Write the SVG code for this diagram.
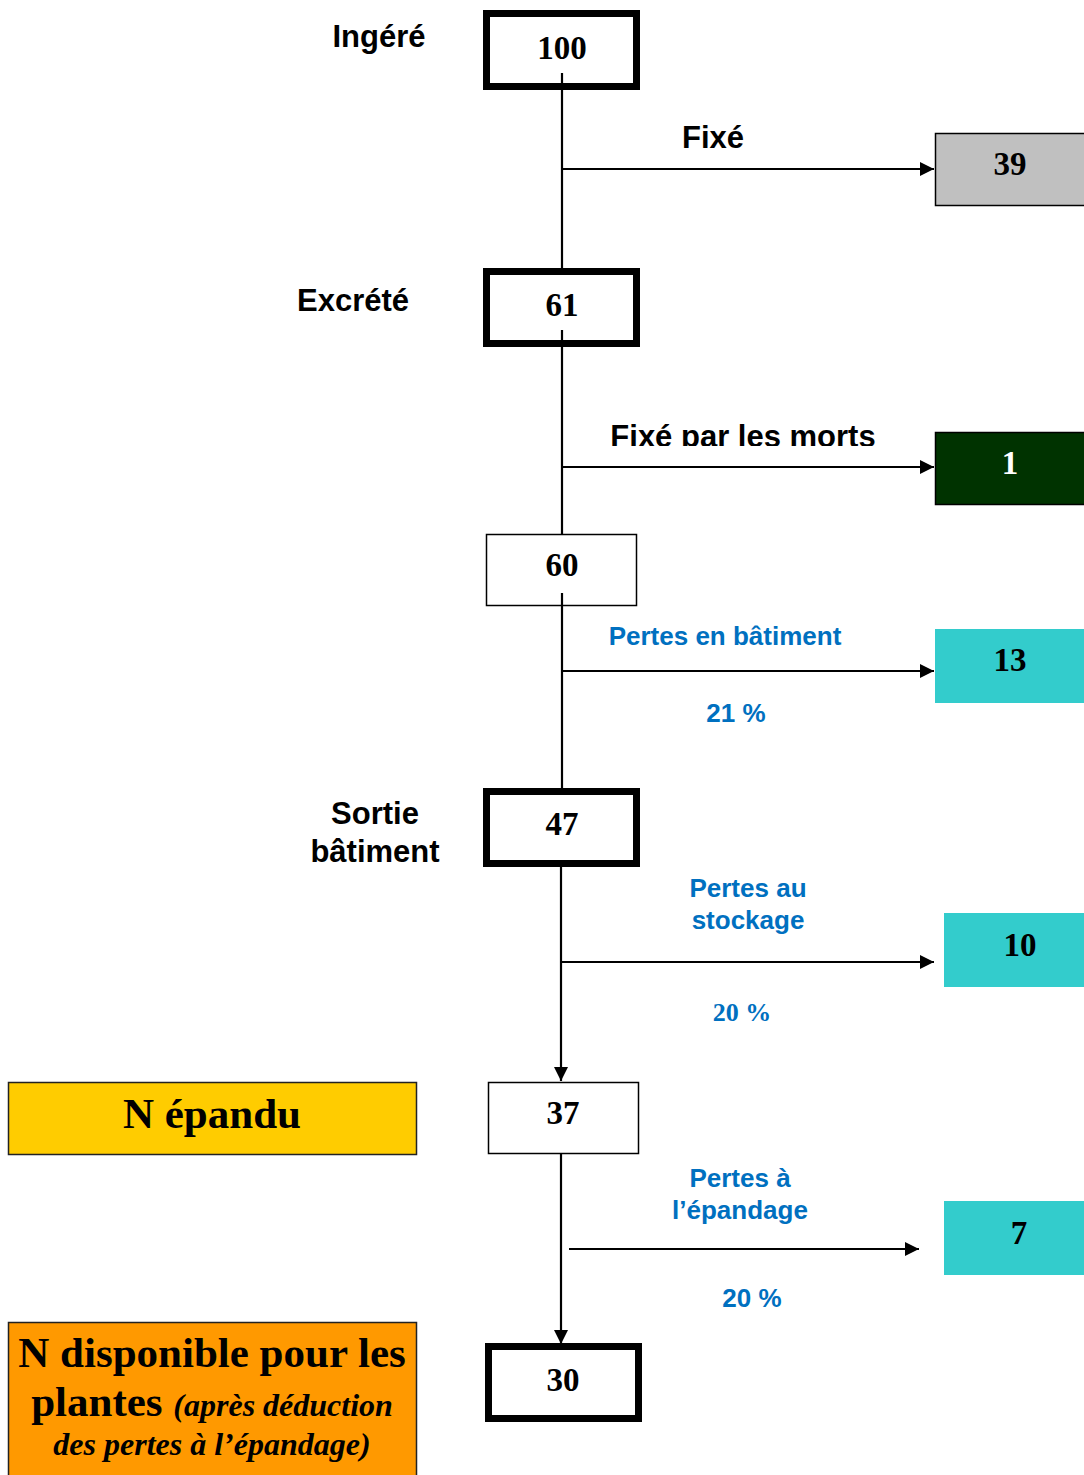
<svg xmlns="http://www.w3.org/2000/svg" width="1084" height="1475" viewBox="0 0 1084 1475">
<style>
.num{font-family:"Liberation Serif","Times New Roman",serif;font-weight:bold;font-size:33px;text-anchor:middle;fill:#000}
.lab{font-family:"Liberation Sans",Arial,sans-serif;font-weight:bold;font-size:31px;fill:#000}
.blue{font-family:"Liberation Sans",Arial,sans-serif;font-weight:bold;font-size:26px;fill:#0070C0;text-anchor:middle}
.bluet{font-family:"Liberation Serif","Times New Roman",serif;font-weight:bold;font-size:26px;fill:#0070C0;text-anchor:middle}
.thick{fill:#fff;stroke:#000;stroke-width:7}
.thin{fill:#fff;stroke:#000;stroke-width:1.5}
.line{stroke:#000;stroke-width:2.2;fill:none}
.big{font-family:"Liberation Serif","Times New Roman",serif;font-weight:bold;font-size:43px;fill:#000;text-anchor:middle}
.it{font-family:"Liberation Serif","Times New Roman",serif;font-weight:bold;font-style:italic;font-size:32px}
</style>
<defs>
<marker id="ah" viewBox="0 0 10 10" refX="10" refY="5" markerWidth="15" markerHeight="14" markerUnits="userSpaceOnUse" orient="auto">
<path d="M0,0 L10,5 L0,10 z" fill="#000"/>
</marker>
<clipPath id="clipmorts"><rect x="560" y="400" width="360" height="46"/></clipPath>
</defs>
<rect width="1084" height="1475" fill="#fff"/>

<g id="n100"><rect class="thick" x="486.5" y="13.5" width="150" height="73"/><text class="num" x="562" y="59">100</text></g>
<g id="lbl-ingere"><text class="lab" x="379" y="47" text-anchor="middle">Ingéré</text></g>
<g id="lbl-fixe"><text class="lab" x="713" y="148" text-anchor="middle">Fixé</text></g>
<g id="n39"><rect x="935.5" y="133.5" width="150" height="72" fill="#C0C0C0" stroke="#000" stroke-width="1.5"/><text class="num" x="1010" y="175">39</text></g>

<g id="n61"><rect class="thick" x="486.5" y="271.5" width="150" height="72"/><text class="num" x="562" y="316">61</text></g>
<g id="lbl-excrete"><text class="lab" x="353" y="311" text-anchor="middle">Excrété</text></g>
<g id="lbl-morts"><text class="lab" x="743" y="447" text-anchor="middle" clip-path="url(#clipmorts)">Fixé par les morts</text></g>
<g id="n1"><rect x="935.5" y="432.5" width="150" height="72" fill="#003300" stroke="#000" stroke-width="1.5"/><text class="num" x="1010" y="474" style="fill:#fff">1</text></g>

<g id="n60"><rect class="thin" x="486.5" y="534.5" width="150" height="71"/><text class="num" x="562" y="576">60</text></g>
<g id="lbl-pertes-bat"><text class="blue" x="725" y="645">Pertes en bâtiment</text><text class="blue" x="736" y="722">21 %</text></g>
<g id="n13"><rect x="935" y="629" width="149" height="74" fill="#33CCCC"/><text class="num" x="1010" y="671">13</text></g>

<g id="n47"><rect class="thick" x="486.5" y="791.5" width="150" height="72"/><text class="num" x="562" y="835">47</text></g>
<g id="lbl-sortie"><text class="lab" x="375" y="824" text-anchor="middle">Sortie</text><text class="lab" x="375" y="862" text-anchor="middle">bâtiment</text></g>
<g id="lbl-stockage"><text class="blue" x="748" y="897">Pertes au</text><text class="blue" x="748" y="929">stockage</text><text class="bluet" x="742" y="1021">20 %</text></g>
<g id="n10"><rect x="944" y="913" width="140" height="74" fill="#33CCCC"/><text class="num" x="1020" y="956">10</text></g>

<g id="n37"><rect class="thin" x="488.5" y="1082.5" width="150" height="71"/><text class="num" x="563" y="1124">37</text></g>
<g id="lbl-epandage"><text class="blue" x="740" y="1187">Pertes à</text><text class="blue" x="740" y="1219">l’épandage</text><text class="blue" x="752" y="1307">20 %</text></g>
<g id="n7"><rect x="944" y="1201" width="140" height="74" fill="#33CCCC"/><text class="num" x="1019" y="1244">7</text></g>

<g id="n30"><rect class="thick" x="488.5" y="1346.5" width="150" height="72"/><text class="num" x="563" y="1391">30</text></g>

<g id="n-epandu"><rect x="8.5" y="1082.5" width="408" height="72" fill="#FFCC00" stroke="#222" stroke-width="1.5"/><text class="big" x="212" y="1128">N épandu</text></g>
<g id="n-dispo"><rect x="8.5" y="1322.5" width="408" height="160" fill="#FF9900" stroke="#222" stroke-width="1.5"/>
<text class="big" x="212" y="1367">N disponible pour les</text>
<text class="big" x="212" y="1416">plantes <tspan class="it">(après déduction</tspan></text>
<text class="big it" x="212" y="1455">des pertes à l’épandage)</text>
</g>

<g id="connectors">
<line class="line" x1="562" y1="73" x2="562" y2="269"/>
<line class="line" x1="562" y1="169" x2="934" y2="169" marker-end="url(#ah)"/>
<line class="line" x1="562" y1="330" x2="562" y2="534"/>
<line class="line" x1="562" y1="467" x2="934" y2="467" marker-end="url(#ah)"/>
<line class="line" x1="562" y1="593" x2="562" y2="789"/>
<line class="line" x1="562" y1="671" x2="934" y2="671" marker-end="url(#ah)"/>
<line class="line" x1="561" y1="866" x2="561" y2="1081" marker-end="url(#ah)"/>
<line class="line" x1="561" y1="962" x2="934" y2="962" marker-end="url(#ah)"/>
<line class="line" x1="561" y1="1154" x2="561" y2="1344" marker-end="url(#ah)"/>
<line class="line" x1="569" y1="1249" x2="919" y2="1249" marker-end="url(#ah)"/>
</g>
</svg>
